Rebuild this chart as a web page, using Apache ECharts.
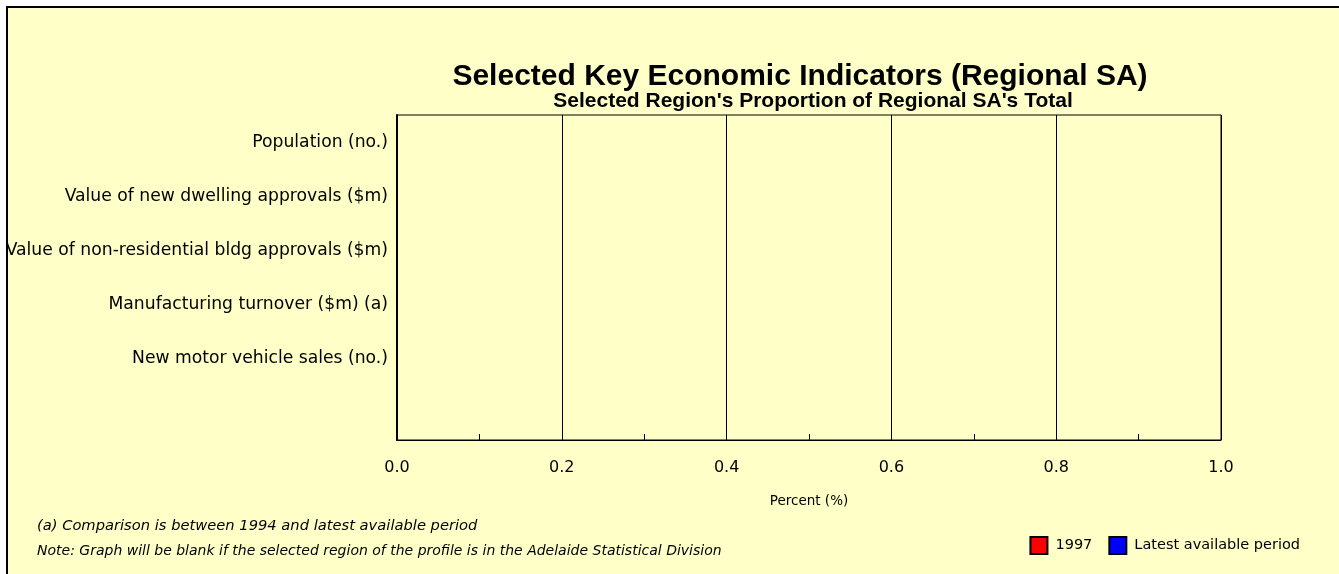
<!DOCTYPE html>
<html>
<head>
<meta charset="utf-8">
<script src="https://cdn.jsdelivr.net/npm/echarts@6/dist/echarts.min.js"></script>
<style>
  html, body { margin: 0; padding: 0; background: #fff; }
  #main { width: 1339px; height: 574px; }
</style>
</head>
<body>
<div id="main"></div>
<script>
// indicators, top to bottom (last slot is the blank row Excel leaves)
var categories = ['Population (no.)', 'Value of new dwelling approvals ($m)',
  'Value of non-residential bldg approvals ($m)', 'Manufacturing turnover ($m) (a)',
  'New motor vehicle sales (no.)', ''];
// graph is blank for this region - no values
var values1997 = [null, null, null, null, null, null];
var valuesLatest = [null, null, null, null, null, null];

var labelFont = 'DejaVu Sans';

var myChart = echarts.init(document.getElementById('main'));
var option = {
    backgroundColor: '#ffffff',
    animation: false,
    graphic: [{
        type: 'rect',
        z: -10,
        silent: true,
        shape: { x: 7, y: 7, width: 1340, height: 580 },
        style: { fill: '#FFFFC8', stroke: '#000', lineWidth: 2 }
    }, {
        type: 'text',
        left: 37, top: 519,
        style: { text: '(a) Comparison is between 1994 and latest available period',
            font: 'italic 14.7px "DejaVu Sans"', fill: '#000' }
    }, {
        type: 'text',
        left: 37, top: 544,
        style: { text: 'Note: Graph will be blank if the selected region of the profile is in the Adelaide Statistical Division',
            font: 'italic 14px "DejaVu Sans"', fill: '#000' }
    }],
    title: [{
        text: 'Selected Key Economic Indicators (Regional SA)',
        left: 795, top: 57, textAlign: 'center',
        textStyle: { fontFamily: 'Liberation Sans', fontWeight: 'bold', fontSize: 30, color: '#000' }
    }, {
        text: "Selected Region's Proportion of Regional SA's Total",
        left: 808, top: 86, textAlign: 'center',
        textStyle: { fontFamily: 'Liberation Sans', fontWeight: 'bold', fontSize: 21, color: '#000' }
    }],
    legend: {
        right: 34, top: 531,
        icon: 'rect', itemWidth: 17, itemHeight: 17, itemGap: 16,
        textStyle: { fontFamily: labelFont, fontSize: 14.5, color: '#000', padding: [0, 0, 0, 3] },
        data: ['1997', 'Latest available period']
    },
    grid: {
        left: 397, right: 118, top: 115, bottom: 134,
        show: true, borderColor: '#000', borderWidth: 1
    },
    xAxis: {
        type: 'value', min: 0, max: 1, interval: 0.2,
        name: 'Percent (%)', nameLocation: 'middle', nameGap: 54,
        nameTextStyle: { fontFamily: labelFont, fontSize: 13.5, color: '#000' },
        axisLine: { show: true, lineStyle: { color: '#000', width: 1 } },
        axisTick: { show: true, inside: true, length: 6, lineStyle: { color: '#000' } },
        minorTick: { show: true, splitNumber: 2, length: 6, lineStyle: { color: '#000' } },
        splitLine: { show: true, lineStyle: { color: '#000', width: 1 } },
        axisLabel: {
            margin: 20, fontFamily: labelFont, fontSize: 16, color: '#000',
            formatter: function (v) { return v.toFixed(1); }
        }
    },
    yAxis: {
        type: 'category', inverse: true, data: categories,
        axisLine: { show: true, lineStyle: { color: '#000', width: 2 } },
        axisTick: { show: false },
        axisLabel: { margin: 9, fontFamily: labelFont, fontSize: 17.2, color: '#000' }
    },
    series: [{
        name: '1997', type: 'bar', data: values1997,
        itemStyle: { color: '#FF0000', borderColor: '#000', borderWidth: 1 }
    }, {
        name: 'Latest available period', type: 'bar', data: valuesLatest,
        itemStyle: { color: '#0000FF', borderColor: '#000', borderWidth: 1 }
    }]
};
myChart.setOption(option);
</script>
</body>
</html>
